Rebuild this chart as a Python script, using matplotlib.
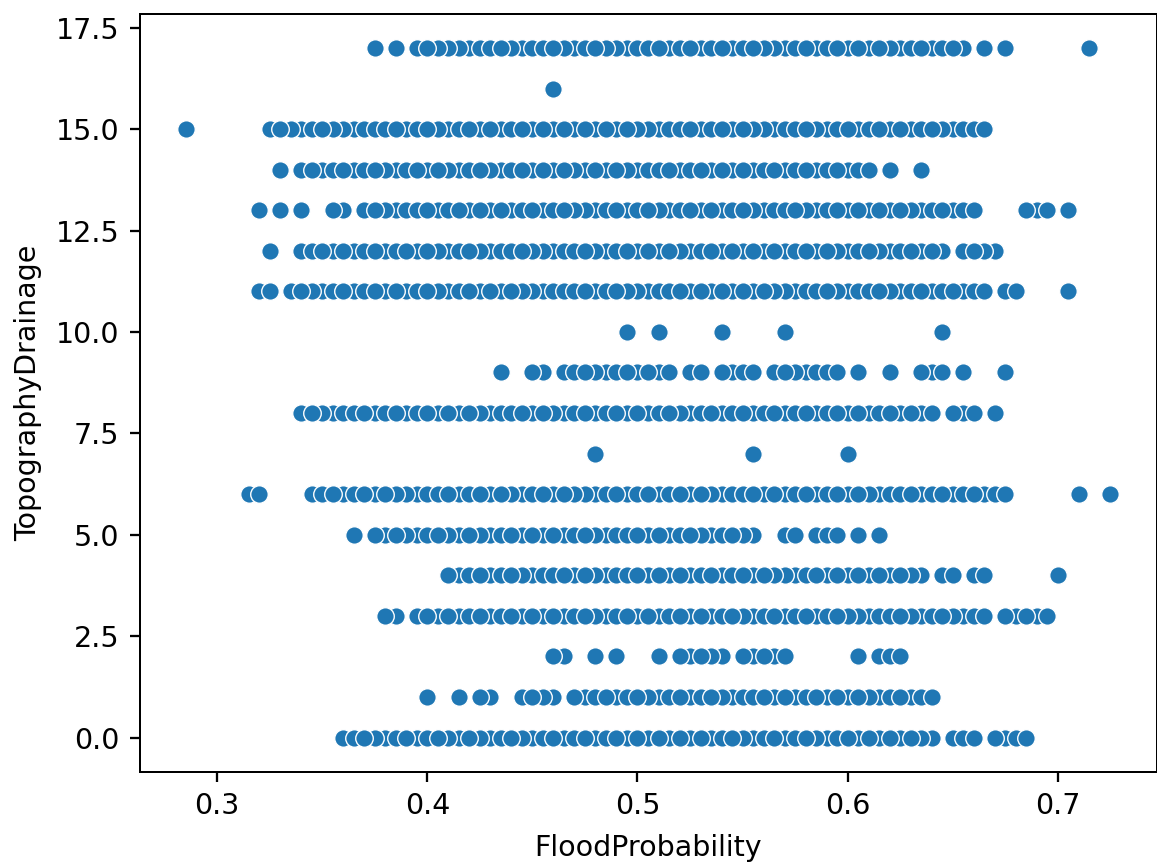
import matplotlib
matplotlib.use('Agg')
import matplotlib.pyplot as plt

# Valores: una lista por cada nivel de TopographyDrainage
flood_0 = [.36, .365, .37, .375, .38, .385, .39, .395, .40, .405, .41, .415, .42, .425, .43, .435, .44, .445, .45, .455,
           .46, .465, .47, .475, .48, .485, .49, .495, .50, .505, .51, .515, .52, .525, .53, .535, .54, .545, .55, .555,
           .56, .565, .57, .575, .58, .585, .59, .595, .60, .605, .61, .615, .62, .625, .63, .635, .64, .65, .655, .66,
           .67, .675, .68, .685]
flood_1 = [.40, .415, .425, .43, .445, .45, .455, .46, .47, .475, .48, .485, .49, .495, .50, .505, .51, .515, .52, .525,
           .53, .535, .54, .545, .55, .555, .56, .565, .57, .575, .58, .585, .59, .595, .60, .605, .61, .615, .62, .625,
           .63, .635, .64]
flood_2 = [.46, .465, .48, .49, .51, .52, .525, .53, .535, .54, .55, .555, .56, .565, .57, .605, .615, .62, .625]
flood_3 = [.38, .385, .395, .40, .405, .41, .415, .42, .425, .43, .435, .44, .445, .45, .455, .46, .465, .47, .475, .48,
           .485, .49, .495, .50, .505, .51, .515, .52, .525, .53, .535, .54, .545, .55, .555, .56, .565, .57, .575, .58,
           .585, .59, .595, .60, .605, .61, .615, .62, .625, .63, .635, .64, .645, .65, .655, .66, .665, .675, .68, .685,
           .69, .695]
flood_4 = [.41, .415, .42, .425, .43, .435, .44, .445, .45, .455, .46, .465, .47, .475, .48, .485, .49, .495, .50, .505,
           .51, .515, .52, .525, .53, .535, .54, .545, .55, .555, .56, .565, .57, .575, .58, .585, .59, .595, .60, .605,
           .61, .615, .62, .625, .63, .635, .645, .65, .66, .665, .70]
flood_5 = [.365, .375, .38, .385, .39, .395, .40, .405, .41, .415, .42, .425, .43, .435, .44, .445, .45, .455, .46, .465,
           .47, .475, .48, .485, .49, .495, .50, .505, .51, .515, .52, .525, .53, .535, .54, .545, .55, .555, .57, .575,
           .585, .59, .595, .605, .615]
flood_6 = [.315, .32, .345, .35, .355, .36, .365, .37, .375, .38, .385, .39, .395, .40, .405, .41, .415, .42, .425, .43,
           .435, .44, .445, .45, .455, .46, .465, .47, .475, .48, .485, .49, .495, .50, .505, .51, .515, .52, .525, .53,
           .535, .54, .545, .55, .555, .56, .565, .57, .575, .58, .585, .59, .595, .60, .605, .61, .615, .62, .625, .63,
           .635, .64, .645, .65, .655, .66, .665, .67, .675, .71, .725]
flood_7 = [.48, .555, .60]
flood_8 = [.34, .345, .35, .355, .36, .365, .37, .375, .38, .385, .39, .395, .40, .405, .41, .415, .42, .425, .43, .435,
           .44, .445, .45, .455, .46, .465, .47, .475, .48, .485, .49, .495, .50, .505, .51, .515, .52, .525, .53, .535,
           .54, .545, .55, .555, .56, .565, .57, .575, .58, .585, .59, .595, .60, .605, .61, .615, .62, .625, .63, .635,
           .64, .65, .655, .66, .67]
flood_9 = [.435, .45, .455, .465, .47, .475, .48, .485, .49, .495, .50, .505, .51, .515, .525, .53, .54, .545, .55, .555,
           .565, .57, .575, .58, .585, .59, .595, .605, .62, .635, .64, .645, .655, .675]
flood_10 = [.495, .51, .54, .57, .645]
flood_11 = [.32, .325, .335, .34, .345, .35, .355, .36, .365, .37, .375, .38, .385, .39, .395, .40, .405, .41, .415, .42,
            .425, .43, .435, .44, .445, .45, .455, .46, .465, .47, .475, .48, .485, .49, .495, .50, .505, .51, .515, .52,
            .525, .53, .535, .54, .545, .55, .555, .56, .565, .57, .575, .58, .585, .59, .595, .60, .605, .61, .615, .62,
            .625, .63, .635, .64, .645, .65, .655, .66, .665, .675, .68, .705]
flood_12 = [.325, .34, .345, .35, .355, .36, .365, .37, .375, .38, .385, .39, .395, .40, .405, .41, .415, .42, .425, .43,
            .435, .44, .445, .45, .455, .46, .465, .47, .475, .48, .485, .49, .495, .50, .505, .51, .515, .52, .525, .53,
            .535, .54, .545, .55, .555, .56, .565, .57, .575, .58, .585, .59, .595, .60, .605, .61, .615, .62, .625, .63,
            .635, .64, .645, .655, .66, .665, .67]
flood_13 = [.32, .33, .34, .355, .36, .37, .375, .38, .385, .39, .395, .40, .405, .41, .415, .42, .425, .43, .435, .44,
            .445, .45, .455, .46, .465, .47, .475, .48, .485, .49, .495, .50, .505, .51, .515, .52, .525, .53, .535, .54,
            .545, .55, .555, .56, .565, .57, .575, .58, .585, .59, .595, .60, .605, .61, .615, .62, .625, .63, .635, .64,
            .645, .65, .655, .66, .685, .69, .695, .705]
flood_14 = [.33, .34, .345, .35, .355, .36, .365, .37, .375, .38, .385, .39, .395, .40, .405, .41, .415, .42, .425, .43,
            .435, .44, .445, .45, .455, .46, .465, .47, .475, .48, .485, .49, .495, .50, .505, .51, .515, .52, .525, .53,
            .535, .54, .545, .55, .555, .56, .565, .57, .575, .58, .585, .59, .595, .60, .605, .61, .62, .635]
flood_15 = [.285, .325, .33, .335, .34, .345, .35, .355, .36, .365, .37, .375, .38, .385, .39, .395, .40, .405, .41, .415,
            .42, .425, .43, .435, .44, .445, .45, .455, .46, .465, .47, .475, .48, .485, .49, .495, .50, .505, .51, .515,
            .52, .525, .53, .535, .54, .545, .55, .555, .56, .565, .57, .575, .58, .585, .59, .595, .60, .605, .61, .615,
            .62, .625, .63, .635, .64, .645, .65, .655, .66, .665]
flood_16 = [.46]
flood_17 = [.375, .385, .395, .40, .405, .41, .415, .42, .425, .43, .435, .44, .445, .45, .455, .46, .465, .47, .475, .48,
            .485, .49, .495, .50, .505, .51, .515, .52, .525, .53, .535, .54, .545, .55, .555, .56, .565, .57, .575, .58,
            .585, .59, .595, .60, .605, .61, .615, .62, .625, .63, .635, .64, .645, .65, .655, .665, .675, .715]

# Puntos que se ven completos (quedan encima de sus vecinos)
top_0 = [.37, .39, .405, .42, .44, .46, .475, .49, .50, .51, .52, .53, .545, .565, .58, .60, .61, .62, .63, .66, .67, .685]
top_1 = [.40, .415, .425, .45, .47, .485, .50, .52, .535, .56, .57, .585, .595, .605, .625, .64]
top_2 = [.46, .48, .49, .51, .52, .53, .55, .56, .57, .605, .625]
top_3 = [.38, .40, .41, .425, .44, .45, .46, .475, .495, .505, .52, .53, .545, .565, .58, .595, .625, .645, .665, .675, .685, .695]
top_4 = [.41, .425, .44, .465, .475, .50, .51, .52, .535, .55, .56, .585, .595, .605, .615, .625, .65, .665, .70]
top_5 = [.365, .375, .385, .405, .42, .44, .45, .46, .475, .50, .51, .525, .545, .575, .595, .605, .615]
top_6 = [.32, .355, .37, .38, .41, .425, .435, .455, .465, .49, .505, .52, .53, .555, .565, .58, .595, .605, .63, .645, .66, .675, .71, .725]
top_7 = [.48, .555, .60]
top_8 = [.345, .37, .385, .40, .41, .42, .445, .455, .475, .49, .50, .515, .535, .55, .565, .58, .595, .605, .62, .63, .64, .65, .66, .67]
top_9 = [.435, .45, .475, .495, .505, .515, .53, .54, .555, .57, .595, .605, .62, .635, .645, .655, .675]
top_10 = [.495, .51, .54, .57, .645]
top_11 = [.32, .325, .34, .36, .375, .385, .40, .42, .43, .44, .475, .49, .52, .53, .54, .55, .56, .59, .615, .635, .65, .665, .68, .705]
top_12 = [.325, .35, .36, .375, .39, .40, .42, .445, .475, .495, .505, .515, .535, .545, .555, .565, .58, .59, .61, .63, .64, .66]
top_13 = [.32, .33, .34, .355, .375, .40, .415, .425, .435, .45, .465, .49, .505, .525, .535, .55, .575, .595, .605, .615, .625, .645, .66, .685, .695, .705]
top_14 = [.33, .345, .36, .375, .395, .405, .425, .445, .455, .465, .48, .49, .515, .53, .54, .55, .565, .58, .595, .61, .62, .635]
top_15 = [.285, .33, .35, .385, .40, .42, .43, .445, .455, .465, .475, .485, .495, .525, .54, .55, .58, .60, .615, .625, .64, .665]
top_16 = [.46]
top_17 = [.375, .385, .40, .435, .46, .48, .51, .525, .54, .555, .58, .595, .605, .615, .635, .65, .665, .675, .715]

flood_rows = [flood_0, flood_1, flood_2, flood_3, flood_4, flood_5, flood_6, flood_7, flood_8,
              flood_9, flood_10, flood_11, flood_12, flood_13, flood_14, flood_15, flood_16, flood_17]
top_rows = [top_0, top_1, top_2, top_3, top_4, top_5, top_6, top_7, top_8,
            top_9, top_10, top_11, top_12, top_13, top_14, top_15, top_16, top_17]

color = '#1f77b4'

W, H = 1157, 865
fig = plt.figure(figsize=(W / 205, H / 205), dpi=205)
ax = fig.add_axes([139.5 / W, (H - 772) / H, 1017 / W, 758.5 / H])

# Se dibuja primero lo mas lejano a un punto completo, para repetir los solapes
xs, ys = [], []
for nivel, (fila, tops) in enumerate(zip(flood_rows, top_rows)):
    orden = sorted(fila, key=lambda v: -min(abs(v - t) for t in tops))
    xs += orden
    ys += [nivel] * len(orden)

ax.scatter(xs, ys, s=38, color=color, edgecolors='white', linewidths=0.48)
ax.set_xlabel('FloodProbability', labelpad=5)
ax.set_ylabel('TopographyDrainage', labelpad=4.7)

for spine in ax.spines.values():
    spine.set_linewidth(0.7)

fig.savefig('out.png', dpi=205)
